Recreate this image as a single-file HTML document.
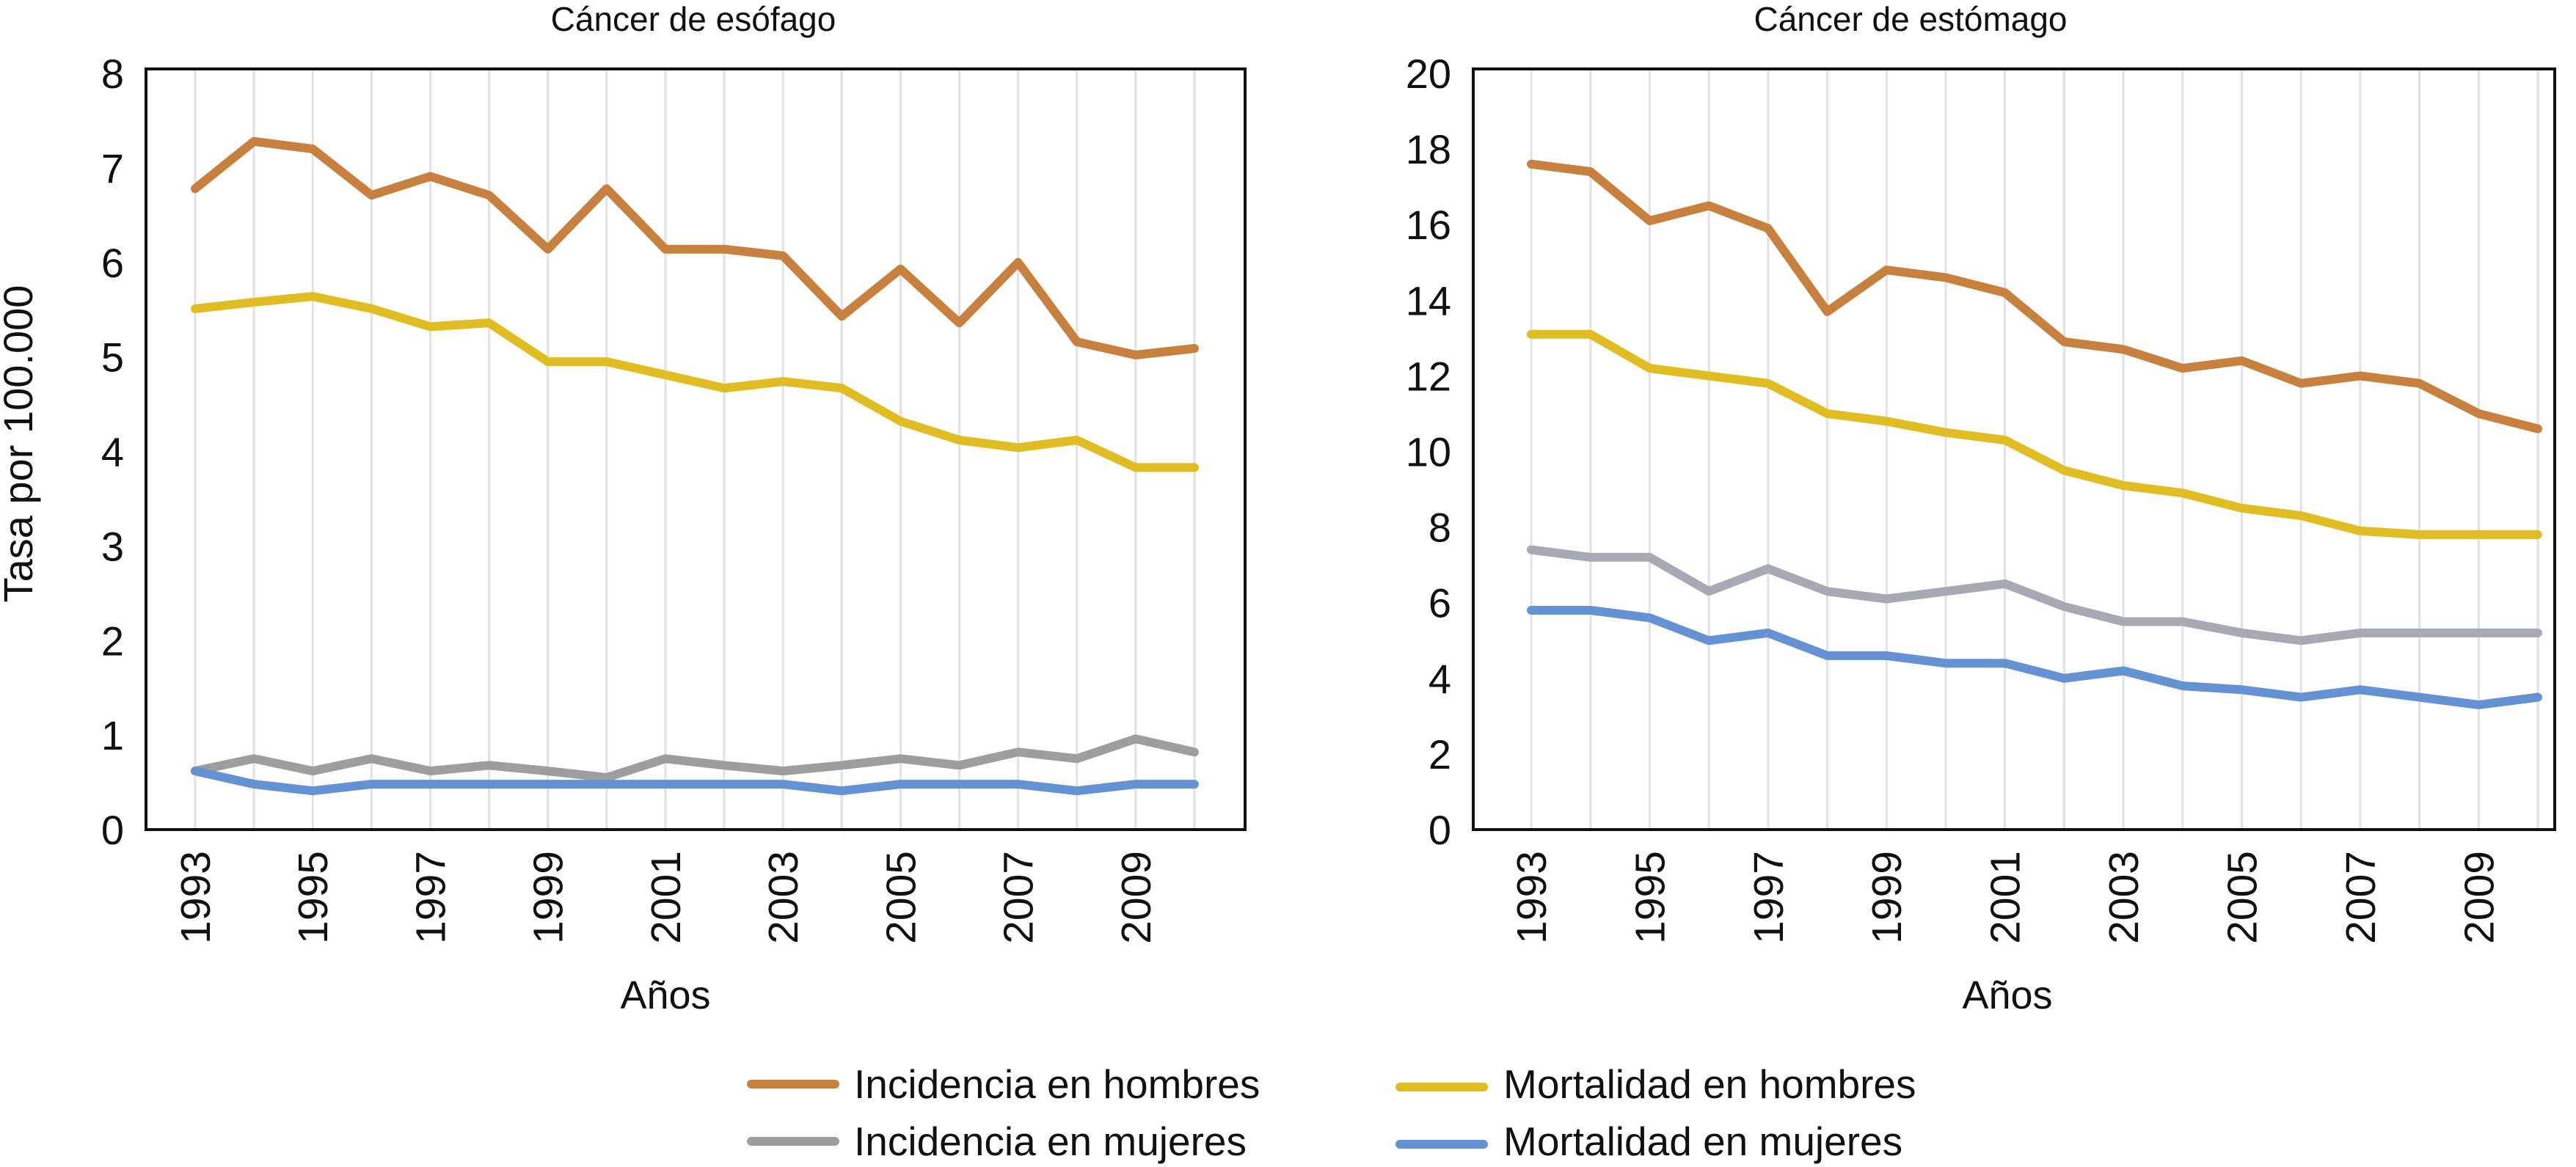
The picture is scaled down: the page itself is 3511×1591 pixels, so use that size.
<!DOCTYPE html>
<html><head><meta charset="utf-8"><style>
html,body{margin:0;padding:0;background:#fff;}
svg{display:block;font-family:"Liberation Sans",Arial,sans-serif;}
</style></head><body>
<svg id="chart" width="3511" height="1591" viewBox="0 0 3511 1591" xmlns="http://www.w3.org/2000/svg">
<g id="legend">
  <g>
    <line x1="1024" y1="1478" x2="1138" y2="1478" stroke="#c8803e" stroke-width="12" stroke-linecap="round"/>
    <text x="1164" y="1497" font-size="55" fill="#111">Incidencia en hombres</text>
  </g>
  <g>
    <line x1="1024" y1="1556" x2="1138" y2="1556" stroke="#9e9e9e" stroke-width="12" stroke-linecap="round"/>
    <text x="1164" y="1575" font-size="55" fill="#111">Incidencia en mujeres</text>
  </g>
  <g>
    <line x1="1908" y1="1482" x2="2022" y2="1482" stroke="#e0bd22" stroke-width="12" stroke-linecap="round"/>
    <text x="2049" y="1497" font-size="55" fill="#111">Mortalidad en hombres</text>
  </g>
  <g>
    <line x1="1908" y1="1560" x2="2022" y2="1560" stroke="#6592d3" stroke-width="12" stroke-linecap="round"/>
    <text x="2049" y="1575" font-size="55" fill="#111">Mortalidad en mujeres</text>
  </g>
</g>
</svg>
<script>
const years = [1993,1994,1995,1996,1997,1998,1999,2000,2001,2002,2003,2004,2005,2006,2007,2008,2009,2010];
const yearLabels = ["1993","1995","1997","1999","2001","2003","2005","2007","2009"];
const esoIncH = [6.78,7.28,7.2,6.71,6.91,6.71,6.14,6.78,6.14,6.14,6.07,5.43,5.93,5.36,6.0,5.16,5.02,5.09];
const esoMortH = [5.51,5.58,5.64,5.51,5.32,5.36,4.95,4.95,4.81,4.67,4.74,4.67,4.32,4.12,4.04,4.12,3.83,3.83];
const esoIncM = [0.62,0.75,0.62,0.75,0.62,0.68,0.62,0.55,0.75,0.68,0.62,0.68,0.75,0.68,0.82,0.75,0.96,0.82];
const esoMortM = [0.62,0.48,0.41,0.48,0.48,0.48,0.48,0.48,0.48,0.48,0.48,0.41,0.48,0.48,0.48,0.41,0.48,0.48];
const esoTicks = [0,1,2,3,4,5,6,7,8];
const estIncH = [17.6,17.4,16.1,16.5,15.9,13.7,14.8,14.6,14.2,12.9,12.7,12.2,12.4,11.8,12.0,11.8,11.0,10.6];
const estMortH = [13.1,13.1,12.2,12.0,11.8,11.0,10.8,10.5,10.3,9.5,9.1,8.9,8.5,8.3,7.9,7.8,7.8,7.8];
const estIncM = [7.4,7.2,7.2,6.3,6.9,6.3,6.1,6.3,6.5,5.9,5.5,5.5,5.2,5.0,5.2,5.2,5.2,5.2];
const estMortM = [5.8,5.8,5.6,5.0,5.2,4.6,4.6,4.4,4.4,4.0,4.2,3.8,3.7,3.5,3.7,3.5,3.3,3.5];
const estTicks = [0,2,4,6,8,10,12,14,16,18,20];

const NS = "http://www.w3.org/2000/svg";
const svg = document.getElementById("chart");
function mk(tag, attrs, parent){const e=document.createElementNS(NS,tag);for(const k in attrs)e.setAttribute(k,attrs[k]);(parent||svg).appendChild(e);return e;}

function panel(cfg){
  const g = mk("g",{});
  
  
  const top=94, bot=1131;
  const ymax = cfg.ticks[cfg.ticks.length-1];
  const yS = v => bot - (v/ymax)*(bot-top-6);
  const xS = yr => cfg.x0 + (yr-years[0])*(cfg.x1-cfg.x0)/(years[years.length-1]-years[0]);
  years.forEach(yr=>{
    const l = mk("line",{x1:xS(yr),x2:xS(yr),y1:top,y2:bot,stroke:"#e2e2e2","stroke-width":3},g);
    
    
  });
  const box = mk("rect",{x:cfg.bx0,y:top,width:cfg.bx1-cfg.bx0,height:bot-top,fill:"none",stroke:"#111","stroke-width":4},g);
  
  
  cfg.ticks.forEach(t=>{
    const tx = mk("text",{x:cfg.bx0-30,y:yS(t)+20,"text-anchor":"end","font-size":56,fill:"#111"},g);
    tx.textContent = t;
    
    
  });
  yearLabels.forEach(s=>{
    const x = xS(+s);
    const tx = mk("text",{x:0,y:0,"text-anchor":"end","font-size":57,fill:"#111",transform:`translate(${x+20},${1160}) rotate(-90)`},g);
    tx.textContent = s;
    
    
  });
  const ti = mk("text",{x:cfg.titleX,y:42,"text-anchor":"middle","font-size":46,fill:"#111"},g);
  ti.textContent = cfg.title;
  
  
  const xt = mk("text",{x:cfg.xTitleX,y:1375,"text-anchor":"middle","font-size":54,fill:"#111"},g);
  xt.textContent = "Años";
  
  
  cfg.series.forEach(s=>{
    const d = s.vals.map((v,i)=>(i?"L":"M")+xS(years[i]).toFixed(1)+","+yS(v).toFixed(1)).join(" ");
    const p = mk("path",{d:d,fill:"none",stroke:s.color,"stroke-width":12,"stroke-linejoin":"round","stroke-linecap":"round"},g);
    
    
  });
}
panel({name:"esofago-panel",title:"Cáncer de esófago",x0:266,x1:1628,bx0:199,bx1:1697,titleX:945,xTitleX:907,ticks:esoTicks,
  series:[{name:"line-incidencia-mujeres",vals:esoIncM,color:"#9e9e9e"},{name:"line-mortalidad-mujeres",vals:esoMortM,color:"#6592d3"},
          {name:"line-mortalidad-hombres",vals:esoMortH,color:"#e0bd22"},{name:"line-incidencia-hombres",vals:esoIncH,color:"#c8803e"}]});
panel({name:"estomago-panel",title:"Cáncer de estómago",x0:2087,x1:3459,bx0:2008,bx1:3482,titleX:2604,xTitleX:2736,ticks:estTicks,
  series:[{name:"line-incidencia-mujeres",vals:estIncM,color:"#a9a9b3"},{name:"line-mortalidad-mujeres",vals:estMortM,color:"#6592d3"},
          {name:"line-mortalidad-hombres",vals:estMortH,color:"#e0bd22"},{name:"line-incidencia-hombres",vals:estIncH,color:"#c8803e"}]});
const yl = mk("text",{x:0,y:0,"text-anchor":"middle","font-size":56,fill:"#111",transform:"translate(44,605) rotate(-90)"});
yl.textContent = "Tasa por 100.000";


</script>
</body></html>
